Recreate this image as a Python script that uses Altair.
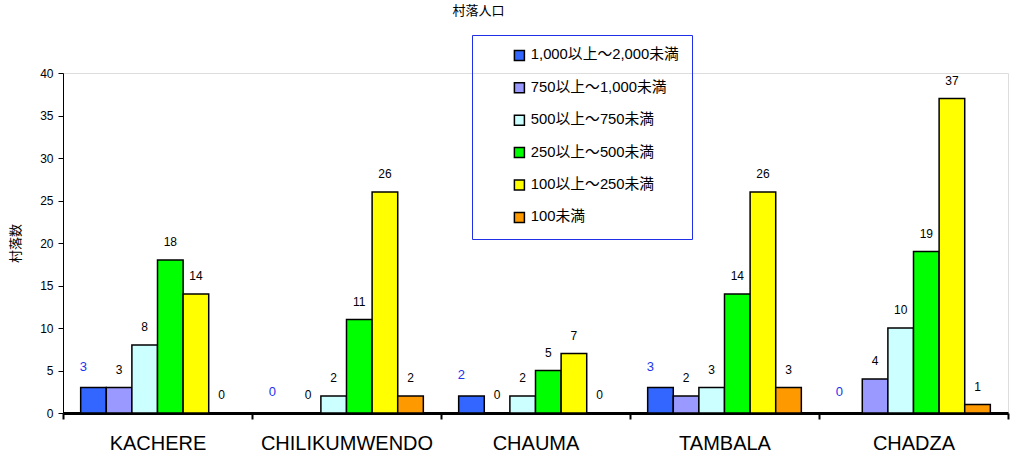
import altair as alt
import pandas as pd

villages = ["KACHERE", "CHILIKUMWENDO", "CHAUMA", "TAMBALA", "CHADZA"]
classes = ["1,000以上～2,000未満", "750以上～1,000未満", "500以上～750未満",
           "250以上～500未満", "100以上～250未満", "100未満"]
colors = ["#3366FF", "#9999FF", "#CCFFFF", "#00FF00", "#FFFF00", "#FF9900"]

kachere = [3, 3, 8, 18, 14, 0]
chilikumwendo = [0, 0, 2, 11, 26, 2]
chauma = [2, 0, 2, 5, 7, 0]
tambala = [3, 2, 3, 14, 26, 3]
chadza = [0, 4, 10, 19, 37, 1]

y_ticks = [0, 5, 10, 15, 20, 25, 30, 35, 40]

rows = []
for v, vals in zip(villages, [kachere, chilikumwendo, chauma, tambala, chadza]):
    for c, n in zip(classes, vals):
        rows.append({"village": v, "cls": c, "count": n, "first": c == classes[0]})
df = pd.DataFrame(rows)

FONT = "Liberation Sans, Arial, Noto Sans CJK JP"
JFONT = "Noto Sans CJK JP"

x_enc = alt.X("village:N", sort=villages,
              scale=alt.Scale(paddingInner=0, paddingOuter=0),
              axis=alt.Axis(title=None, labelAngle=0, labelFont=FONT, labelFontSize=20,
                            labelColor="black", domainColor="black", domainWidth=3,
                            tickColor="black", tickSize=6, tickWidth=2, tickBand="extent",
                            labelPadding=14))
xo_enc = alt.XOffset("cls:N", sort=classes,
                     scale=alt.Scale(domain=classes, paddingInner=0, paddingOuter=0.69))
y_enc = alt.Y("count:Q",
              scale=alt.Scale(domain=[0, 40], nice=False),
              axis=alt.Axis(values=y_ticks, title="村落数", grid=False,
                            labelFont=FONT, labelFontSize=12, labelColor="black",
                            domainColor="black", tickColor="black", tickSize=5,
                            labelPadding=5, titleFont=JFONT,
                            titleFontSize=13, titleFontWeight="normal",
                            titleColor="black", titlePadding=17))

base = alt.Chart(df)

bars = base.mark_bar(stroke="black", strokeWidth=1.5).encode(
    x=x_enc, xOffset=xo_enc, y=y_enc,
    color=alt.Color("cls:N", sort=classes,
                    scale=alt.Scale(domain=classes, range=colors),
                    legend=alt.Legend(orient="none", legendX=409, legendY=-38,
                                      title=None, strokeColor="#1F2FE8",
                                      padding=13, symbolOffset=27,
                                      symbolType="square", symbolSize=100,
                                      symbolStrokeColor="black", symbolStrokeWidth=1.5,
                                      labelFont=FONT, labelFontSize=14.8,
                                      labelColor="black", rowPadding=15.4,
                                      labelOffset=4)),
)

labels = base.transform_filter("!datum.first").mark_text(
    dy=-18, baseline="middle", fontSize=12, font=FONT, color="black"
).encode(x=x_enc, xOffset=xo_enc, y=y_enc, text="count:Q")

first_labels = base.transform_filter("datum.first").mark_text(
    dy=-21, dx=-10, baseline="middle", fontSize=13, font=FONT, color="#2233EE"
).encode(x=x_enc, xOffset=xo_enc, y=y_enc, text="count:Q")

chart = alt.layer(bars, labels, first_labels).properties(
    width=945, height=340,
    title=alt.TitleParams("村落人口", font=JFONT, fontSize=13,
                          fontWeight="normal", color="black", anchor="middle",
                          dx=-57, dy=-13),
    autosize=alt.AutoSizeParams(type="none"),
    padding={"left": 63, "top": 73, "right": 3, "bottom": 45},
).configure_view(stroke=None).configure_legend(strokeWidth=2).configure(background="white")

chart.save("out.html", embed_options={"renderer": "svg", "actions": False})
